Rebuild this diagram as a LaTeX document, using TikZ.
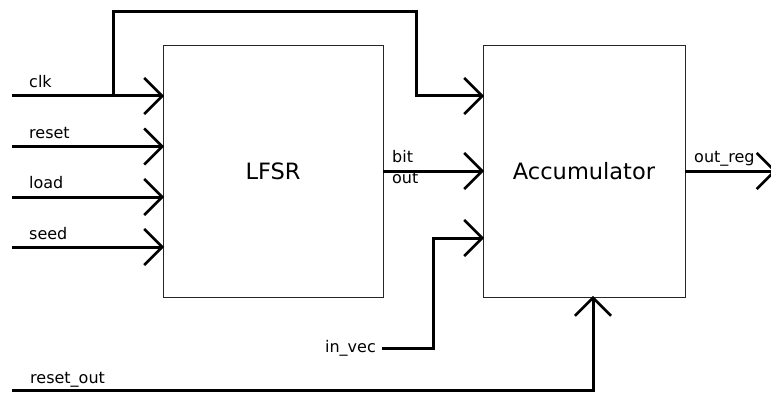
\documentclass[tikz,border=0pt]{standalone}
\usepackage{fontspec}
\setmainfont{DejaVu Sans}
\usetikzlibrary{arrows.meta}
\begin{document}
\begin{tikzpicture}[x=1pt,y=-1pt,
  wire/.style={line width=3pt, line join=miter},
  sig/.style={wire, shorten >=-1.5pt,
    -{Straight Barb[length=18pt,width=36pt,line width=2.6pt]}},
  block/.style={draw=black!85, line width=0.9pt, minimum width=#1,
    minimum height=252pt, inner sep=0pt,
    font=\fontsize{22.5}{27}\selectfont},
  lbl/.style={font=\fontsize{16}{19}\selectfont, inner sep=0pt}]
\useasboundingbox (0,0) rectangle (771,393);

% blocks
\node[block=220pt] (lfsr) at (273,171) {LFSR};
\node[block=202pt] (acc) at (584,171) {Accumulator};

% free ends of the input wires
\coordinate (iclk)  at (12,96);
\coordinate (irst)  at (12,146.5);
\coordinate (iload) at (12,197);
\coordinate (iseed) at (12,247);
\coordinate (clkbr) at (113,96);
\coordinate (clktop) at (416,12);
\coordinate (ivec)  at (382,348);
\coordinate (ivecx) at (433,238);
\coordinate (irout) at (12,390);
\coordinate (oend)  at (775,171);

% LFSR inputs
\draw[sig] (iclk)  -- (iclk -| lfsr.west);
\draw[sig] (irst)  -- (irst -| lfsr.west);
\draw[sig] (iload) -- (iload -| lfsr.west);
\draw[sig] (iseed) -- (iseed -| lfsr.west);

\node[lbl, anchor=base west] (lclk)  at (29,88)  {clk};
\node[lbl, anchor=base west] (lrst)  at (29,138.5) {reset};
\node[lbl, anchor=base west] (lload) at (29,189) {load};
\node[lbl, anchor=base west] (lseed) at (29,239) {seed};

% clock branch to the accumulator
\draw[sig] (clkbr) |- (clktop) |- (acc.west |- iclk);

% LFSR output bit
\draw[sig] (lfsr.east) -- (acc.west);
\node[lbl, anchor=base west] (lbit) at (392,162) {bit};
\node[lbl, anchor=base west] (lout) at (392,183) {out};

% in_vec
\node[lbl, anchor=base east] (lvec) at (376,352) {in\_vec};
\draw[sig] (ivec) -| (ivecx) -- (ivecx -| acc.west);

% reset_out
\node[lbl, anchor=base west] (lrout) at (30,383) {reset\_out};
\draw[sig] (irout) -| ([xshift=9pt]acc.south);

% accumulator output
\draw[sig] (acc.east) -- (oend);
\node[lbl, anchor=base west] (lreg) at (694,163) {out\_reg};
\end{tikzpicture}
\end{document}
